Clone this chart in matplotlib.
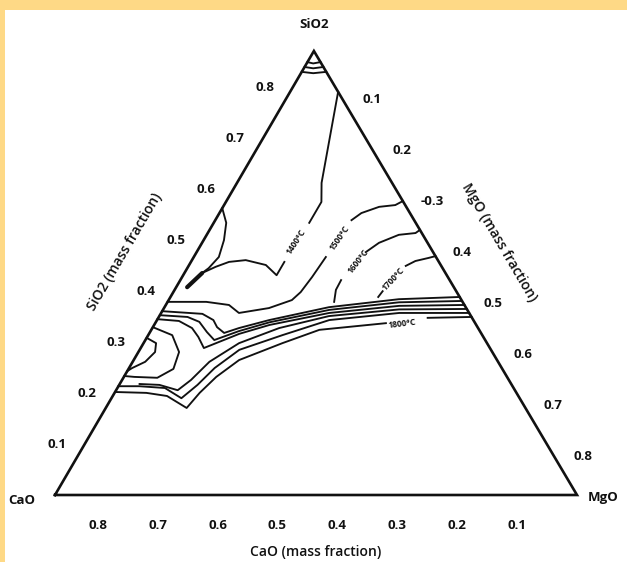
import numpy as np
import matplotlib
matplotlib.use("Agg")
import matplotlib.pyplot as plt
from matplotlib.patches import Rectangle

plt.rcParams['font.family'] = ['Open Sans', 'DejaVu Sans']

# Compositions are (SiO2, MgO) mass fractions, CaO is the rest
GAP = (np.nan, np.nan)

apex_arc_1 = [(0.975, 0.0), (0.972, 0.0125), (0.975, 0.025)]
apex_arc_2 = [(0.964, 0.0), (0.961, 0.018), (0.964, 0.036)]
apex_arc_3 = [(0.953, 0.0), (0.950, 0.0235), (0.953, 0.047)]

iso_1400 = [(0.908, 0.092), (0.703, 0.162), (0.660, 0.183), (0.613, 0.183), GAP,
            (0.525, 0.179), (0.495, 0.179), (0.518, 0.147), (0.529, 0.103),
            (0.525, 0.073), (0.514, 0.053), (0.500, 0.034), (0.468, 0.021)]
side_branch = [(0.646, 0.0), (0.613, 0.024), (0.574, 0.039), (0.536, 0.048),
               (0.511, 0.041), (0.500, 0.034)]
iso_1500 = [(0.662, 0.338), (0.653, 0.328), (0.649, 0.299), (0.635, 0.272), (0.619, 0.261), GAP,
            (0.536, 0.253), (0.491, 0.249), (0.457, 0.244), (0.439, 0.236), (0.421, 0.201),
            (0.410, 0.149), (0.428, 0.121), (0.435, 0.074), (0.435, 0.0)]
iso_1600 = [(0.597, 0.403), (0.590, 0.398), (0.586, 0.368), (0.568, 0.339), (0.547, 0.324), GAP,
            (0.484, 0.308), (0.462, 0.309), (0.435, 0.319)]
iso_1700 = [(0.538, 0.462), (0.534, 0.451), (0.527, 0.429), (0.516, 0.416), GAP,
            (0.459, 0.400), (0.446, 0.398)]

band_1 = [(0.446, 0.554), (0.441, 0.440), (0.423, 0.315), (0.394, 0.215), (0.376, 0.166),
          (0.365, 0.143), (0.378, 0.123), (0.394, 0.108), (0.408, 0.080), (0.414, 0.0)]
band_2 = [(0.437, 0.563), (0.434, 0.444), (0.417, 0.319), (0.389, 0.218), (0.369, 0.169),
          (0.349, 0.132), (0.367, 0.109), (0.390, 0.083), (0.401, 0.055), (0.405, 0.0)]
band_3 = [(0.428, 0.572), (0.426, 0.448), (0.410, 0.322), (0.383, 0.221), (0.363, 0.173),
          (0.331, 0.121), (0.356, 0.098), (0.376, 0.076), (0.392, 0.043), (0.396, 0.0)]
band_4 = [(0.419, 0.581), (0.418, 0.452), (0.403, 0.325), (0.376, 0.243), (0.342, 0.183),
          (0.300, 0.147), (0.259, 0.132), (0.236, 0.118), (0.248, 0.077), (0.250, 0.038)]
band_5 = [(0.410, 0.590), (0.410, 0.456), (0.394, 0.330), (0.360, 0.257), (0.327, 0.191),
          (0.286, 0.164), (0.248, 0.150), (0.218, 0.134), (0.241, 0.091), (0.245, 0.040),
          (0.245, 0.0)]
iso_1800 = [(0.401, 0.599), (0.399, 0.516), GAP, (0.387, 0.442), (0.372, 0.322),
            (0.342, 0.266), (0.304, 0.202), (0.266, 0.177), (0.230, 0.163), (0.196, 0.155),
            (0.223, 0.104), (0.230, 0.061), (0.232, 0.0)]
loop_1 = [(0.354, 0.0), (0.342, 0.024), (0.322, 0.032), (0.300, 0.024), (0.286, 0.006), (0.279, 0.0)]
loop_2 = [(0.378, 0.0), (0.360, 0.046), (0.322, 0.078), (0.284, 0.086), (0.264, 0.065),
          (0.266, 0.020), (0.268, 0.0)]

# isotherm labels: text, (SiO2, MgO), angle
iso_labels = [("1400°C", (0.570, 0.179), 57),
              ("1500°C", (0.579, 0.257), 55),
              ("1600°C", (0.527, 0.320), 52),
              ("1700°C", (0.486, 0.406), 47),
              ("1800°C", (0.385, 0.473), 7)]

tick_values = [0.1, 0.2, 0.3, 0.4, 0.5, 0.6, 0.7, 0.8]
left_tick_labels = ['0.1', '0.2', '0.3', '0.4', '0.5', '0.6', '0.7', '0.8']
right_tick_labels = ['0.1', '0.2', '-0.3', '0.4', '0.5', '0.6', '0.7', '0.8']
bottom_tick_labels = ['0.1', '0.2', '0.3', '0.4', '0.5', '0.6', '0.7', '0.8']

H = 444 / 522      # triangle is a bit flatter than equilateral
APEX_X = 0.496
TICK_STRETCH = 1.148  # labels in the original sit on a larger scale than the triangle


def tern(pts):
    a = np.array(pts, dtype=float)
    s, m = a[:, 0], a[:, 1]
    return m + APEX_X * s, H * s


fig = plt.figure(figsize=(6.27, 5.62), dpi=100)
fig.patch.set_facecolor('#FED986')
fig.patches.append(Rectangle((5 / 627, 0), 1, (562 - 10) / 562, transform=fig.transFigure,
                             facecolor='white', edgecolor='none', zorder=-5))
ax = fig.add_axes([0, 0, 1, 1])
ax.set_facecolor('none')
ax.set_xlim(-55 / 522, 572 / 522)
ax.set_ylim(-67 / 522, 495 / 522)
ax.axis('off')

# triangle
ax.plot(*tern([(0, 0), (0, 1), (1, 0), (0, 0)]), color='#111111', lw=1.9, solid_joinstyle='miter')

curves = [apex_arc_1, apex_arc_2, apex_arc_3, iso_1400, side_branch, iso_1500, iso_1600,
          iso_1700, band_1, band_2, band_3, band_4, band_5, iso_1800, loop_1, loop_2]
for c in curves:
    ax.plot(*tern(c), color='#111111', lw=1.35)
ax.plot(*tern(iso_1400[-2:]), color='#111111', lw=3, solid_capstyle='round')

for txt, pos, ang in iso_labels:
    x, y = tern([pos])
    ax.text(x[0], y[0], txt, fontsize=6, fontweight='bold', rotation=ang,
            ha='center', va='center', rotation_mode='anchor', color='#111111')

tick_kw = dict(textcoords='offset points', ha='center', va='center', fontsize=9.5,
               fontweight='bold', color='#111111')
for v, lab in zip(tick_values, left_tick_labels):
    x, y = tern([(v * TICK_STRETCH, 0)])
    ax.annotate(lab, (x[0], y[0]), xytext=(-20, 0), **tick_kw)
for v, lab in zip(tick_values, right_tick_labels):
    t = v * TICK_STRETCH
    x, y = tern([(1 - t, t)])
    ax.annotate(lab, (x[0], y[0]), xytext=(20, 1.5), **tick_kw)
for v, lab in zip(tick_values, bottom_tick_labels):
    t = v * TICK_STRETCH
    x, y = tern([(0, 1 - t)])
    ax.annotate(lab, (x[0], y[0]), xytext=(0, -22), **tick_kw)

corner_kw = dict(textcoords='offset points', va='center', fontsize=9.5, fontweight='bold',
                 color='#111111')
x, y = tern([(1, 0)])
ax.annotate('SiO2', (x[0], y[0]), xytext=(0, 19), ha='center', **corner_kw)
x, y = tern([(0, 0)])
ax.annotate('CaO', (x[0], y[0]), xytext=(-24, -4), ha='center', **corner_kw)
x, y = tern([(0, 1)])
ax.annotate('MgO', (x[0], y[0]), xytext=(8, -2), ha='left', **corner_kw)

title_kw = dict(textcoords='offset points', ha='center', va='center', fontsize=10,
                fontweight='semibold', rotation_mode='anchor', color='#111111')
x, y = tern([(0, 0.5)])
ax.annotate('CaO (mass fraction)', (x[0], y[0]), xytext=(0, -41), **title_kw)
x, y = tern([(0.547, 0)])
ax.annotate('SiO2 (mass fraction)', (x[0], y[0]), xytext=(-52, 0), rotation=59.7, **title_kw)
x, y = tern([(0.570, 0.430)])
ax.annotate('MgO (mass fraction)', (x[0], y[0]), xytext=(52, 0), rotation=-59.4, **title_kw)

fig.savefig('out.png', dpi=100)
